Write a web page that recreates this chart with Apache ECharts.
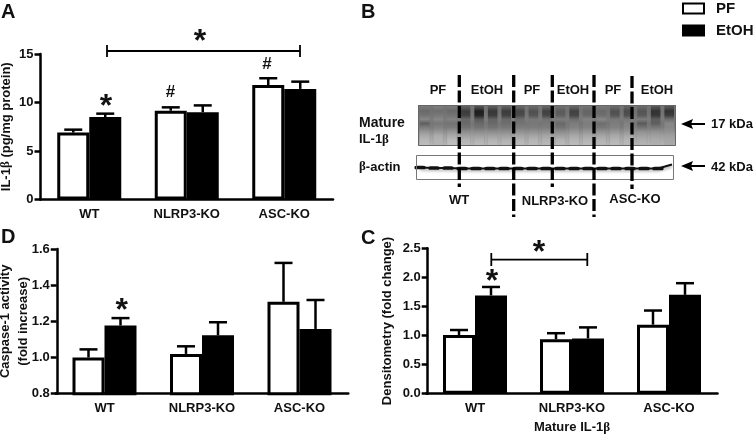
<!DOCTYPE html>
<html>
<head>
<meta charset="utf-8">
<style>html,body{margin:0;background:#fff}#main{width:755px;height:434px}</style>
<script src="https://cdn.jsdelivr.net/npm/echarts@6/dist/echarts.min.js"></script>
</head>
<body>
<div id="main"></div>
<script>
var categories = ['WT', 'NLRP3-KO', 'ASC-KO'];

// panel A
var il1bPF = [6.9, 9.15, 11.8];
var il1bPFTop = [7.2, 9.5, 12.5];
var il1bEtOH = [8.5, 9.0, 11.4];
var il1bEtOHTop = [8.85, 9.7, 12.15];
// panel D
var caspPF = [1.0, 1.02, 1.308];
var caspPFTop = [1.045, 1.062, 1.523];
var caspEtOH = [1.177, 1.123, 1.158];
var caspEtOHTop = [1.218, 1.195, 1.318];
// panel C
var densPF = [1.01, 0.935, 1.187];
var densPFTop = [1.095, 1.04, 1.43];
var densEtOH = [1.69, 0.95, 1.7];
var densEtOHTop = [1.835, 1.14, 1.9];

// western blot grey levels, one row per 4px, one column per lane
var blotRows = [
  [120, 125, 120, 95, 80, 90, 95, 100, 105, 100, 110, 100, 115, 120, 105, 100, 105, 85, 85],
  [105, 110, 105, 60, 30, 55, 60, 70, 80, 65, 90, 65, 100, 105, 80, 75, 85, 50, 50],
  [115, 120, 115, 65, 35, 60, 65, 75, 85, 70, 95, 70, 105, 110, 85, 80, 90, 55, 60],
  [135, 135, 130, 105, 90, 100, 105, 110, 120, 115, 125, 110, 130, 135, 120, 120, 125, 95, 110],
  [95, 120, 115, 105, 105, 105, 110, 115, 120, 120, 105, 125, 125, 110, 125, 130, 90, 95, 135],
  [125, 130, 125, 115, 115, 115, 120, 125, 125, 125, 115, 130, 130, 120, 130, 135, 115, 120, 135],
  [150, 150, 150, 140, 140, 140, 140, 145, 145, 145, 140, 150, 150, 145, 150, 150, 145, 145, 145],
  [170, 172, 170, 160, 160, 160, 160, 165, 165, 165, 160, 168, 168, 165, 168, 168, 160, 160, 158],
  [182, 178, 185, 178, 176, 178, 176, 178, 180, 178, 178, 180, 180, 178, 180, 180, 172, 170, 165],
  [188, 180, 190, 186, 186, 186, 184, 186, 186, 184, 186, 186, 186, 184, 186, 184, 178, 174, 168]
];
// lighter streaks that show between the lanes
var blotGapLevels = [118, 112, 118, 125, 118, 125, 146, 165, 176, 184];
var actinLevels = [0.5, 0, 0, -0.5, -0.5, -0.5, -0.5, -0.5, -0.5, -0.5, -0.5, -0.5, -0.5, -0.5, -0.5, -0.5, -0.5, -0.5, 3.5];

var font = 'Liberation Sans';
var barW = 32;
var betaRich = {
  a: { fontFamily: font, fontWeight: 'bold', fontSize: 13, color: '#111' },
  b: { fontFamily: 'Liberation Serif', fontWeight: 'bold', fontSize: 13, color: '#111' }
};

function xAxisConf (gridIndex, name) {
  return {
    type: 'category', gridIndex: gridIndex, data: categories,
    axisLine: { lineStyle: { color: '#000', width: 2.5 } },
    axisTick: { show: false },
    axisLabel: { color: '#111', fontFamily: font, fontWeight: 'bold', fontSize: 13, margin: 8, interval: 0 },
    name: name || '', nameLocation: 'middle', nameGap: 27,
    nameTextStyle: { rich: betaRich }
  };
}
function yAxisConf (gridIndex, min, max, interval, name, nameGap, offset, digits) {
  return {
    type: 'value', gridIndex: gridIndex, min: min, max: max, interval: interval, offset: offset,
    splitLine: { show: false },
    axisLine: { show: true, onZero: false, lineStyle: { color: '#000', width: 2.5 } },
    axisTick: { show: true, length: 6, lineStyle: { color: '#000', width: 2.5 } },
    axisLabel: {
      color: '#111', fontFamily: font, fontWeight: 'bold', fontSize: 13, margin: 7,
      formatter: function (v) { return v.toFixed(digits); }
    },
    name: name, nameLocation: 'middle', nameGap: nameGap, nameMoveOverlap: false,
    nameTextStyle: { rich: betaRich, color: '#111', fontFamily: font, fontWeight: 'bold', fontSize: 13, lineHeight: 18 }
  };
}
function barSeries (name, idx, values) {
  var white = name === 'PF';
  return {
    name: name, type: 'bar', xAxisIndex: idx, yAxisIndex: idx, data: values,
    barWidth: barW, barGap: 0, z: 3, silent: true,
    itemStyle: { color: white ? '#fff' : '#000', borderColor: '#000', borderWidth: 3 }
  };
}
function errorSeries (idx, values, tops, side) {
  return {
    type: 'custom', name: 'err' + idx + side, xAxisIndex: idx, yAxisIndex: idx, z: 2, silent: true,
    data: values.map(function (v, i) { return [i, v, tops[i]]; }),
    renderItem: function (params, api) {
      var base = api.coord([api.value(0), api.value(1)]);
      var top = api.coord([api.value(0), api.value(2)]);
      var x = base[0] + side * barW / 2;
      var style = { stroke: '#000', lineWidth: 2.5, fill: null };
      return {
        type: 'group',
        children: [
          { type: 'line', shape: { x1: x, y1: base[1], x2: x, y2: top[1] }, style: style },
          { type: 'line', shape: { x1: x - 9, y1: top[1], x2: x + 9, y2: top[1] }, style: style }
        ]
      };
    }
  };
}

function grey (v) { return 'rgb(' + v + ',' + v + ',' + v + ')'; }
function blotFill (levels) {
  var stops = levels.map(function (v, r) {
    return { offset: (r + 0.5) / levels.length, color: grey(v) };
  });
  return new echarts.graphic.LinearGradient(0, 0, 0, 1, stops);
}
var laneIdx = actinLevels.map(function (v, i) { return i; });
var rowIdx = blotRows.map(function (v, i) { return i; });

// graphic helpers for labels and annotations
function txt (x, y, text, size, align) {
  return {
    type: 'text', x: x, y: y, z: 20, silent: true,
    style: {
      text: text, fontFamily: font, fontWeight: 'bold', fontSize: size || 13, fill: '#111',
      align: align || 'center', verticalAlign: 'middle', rich: betaRich
    }
  };
}
function seg (x1, y1, x2, y2, width, dash) {
  return {
    type: 'line', z: 15, silent: true, shape: { x1: x1, y1: y1, x2: x2, y2: y2 },
    style: { stroke: '#000', lineWidth: width, lineDash: dash || null }
  };
}
function arrow (y) {
  return {
    type: 'group', silent: true, children: [
      seg(690, y, 705, y, 2),
      { type: 'polygon', z: 15, shape: { points: [[681, y], [693, y - 5], [691, y], [693, y + 5]] }, style: { fill: '#000' } }
    ]
  };
}
var dash = [12, 3.5];
var graphics = [
  txt(1, 12, 'A', 20, 'left'), txt(361, 12, 'B', 20, 'left'), txt(1, 237, 'D', 20, 'left'), txt(361, 238, 'C', 20, 'left'),
  // significance marks
  seg(107, 51, 300, 51, 1.8), seg(107, 45, 107, 57, 1.8), seg(300, 45, 300, 57, 1.8),
  txt(200, 42, '*', 32), txt(106, 107, '*', 32), txt(170.5, 92, '#', 17), txt(267, 64, '#', 17),
  txt(121.7, 311, '*', 32),
  seg(491.3, 259.7, 587.3, 259.7, 1.8), seg(491.3, 253, 491.3, 266, 1.8), seg(587.3, 253, 587.3, 266, 1.8),
  txt(539, 253, '*', 32), txt(492, 282, '*', 32),
  // blot outlines
  { type: 'rect', z: 12, silent: true, shape: { x: 418.5, y: 105.5, width: 257, height: 40 }, style: { fill: null, stroke: '#666', lineWidth: 1 } },
  { type: 'rect', z: 12, silent: true, shape: { x: 416.5, y: 155.5, width: 257, height: 24 }, style: { fill: null, stroke: '#777', lineWidth: 1 } },
  // lane dividers
  seg(459.3, 75, 459.3, 187, 3.3, dash), seg(513.7, 75, 513.7, 217, 3.3, dash), seg(552.3, 75, 552.3, 187, 3.3, dash),
  seg(594, 75, 594, 217, 3.3, dash), seg(632, 76, 632, 189, 3.3, dash),
  // blot labels
  txt(438, 90, 'PF'), txt(487, 90, 'EtOH'), txt(532, 90, 'PF'), txt(573, 90, 'EtOH'), txt(613, 90, 'PF'), txt(657, 90, 'EtOH'),
  txt(359, 123, 'Mature', 14, 'left'), txt(359, 139.5, '{a|IL-1}{b|β}', 13, 'left'), txt(359, 167, '{b|β}{a|-actin}', 13, 'left'),
  txt(711, 124, '17 kDa', 13, 'left'), txt(711, 167, '42 kDa', 13, 'left'),
  txt(459, 200, 'WT'), txt(555, 201, 'NLRP3-KO'), txt(635, 199, 'ASC-KO'),
  arrow(124), arrow(166)
];

var series = [
  errorSeries(0, il1bPF, il1bPFTop, -1), errorSeries(0, il1bEtOH, il1bEtOHTop, 1),
  barSeries('PF', 0, il1bPF), barSeries('EtOH', 0, il1bEtOH),
  errorSeries(1, caspPF, caspPFTop, -1), errorSeries(1, caspEtOH, caspEtOHTop, 1),
  barSeries('PF', 1, caspPF), barSeries('EtOH', 1, caspEtOH),
  errorSeries(2, densPF, densPFTop, -1), errorSeries(2, densEtOH, densEtOHTop, 1),
  barSeries('PF', 2, densPF), barSeries('EtOH', 2, densEtOH),
  {
    type: 'custom', name: 'blot', xAxisIndex: 3, yAxisIndex: 3, data: laneIdx, silent: true, clip: true,
    renderItem: function (params, api) {
      var lane = params.dataIndex;
      var c = api.coord([lane, 0]);
      var w = api.size([1, 0])[0];
      var h = params.coordSys.height;
      var top = params.coordSys.y;
      var levels = blotRows.map(function (row) { return row[lane]; });
      return {
        type: 'group',
        children: [
          { type: 'rect', shape: { x: c[0] - w / 2 - 1, y: top, width: w + 2, height: h }, style: { fill: blotFill(blotGapLevels) } },
          {
            type: 'rect', shape: { x: c[0] - w / 2 + 2, y: top, width: w - 4, height: h },
            style: { fill: blotFill(levels), shadowBlur: 5, shadowColor: 'rgba(110,110,110,0.4)' }
          }
        ]
      };
    }
  },
  {
    type: 'line', name: 'actin', xAxisIndex: 4, yAxisIndex: 4, silent: true, z: 5,
    data: actinLevels.map(function (v, i) { return i === actinLevels.length - 1 ? { value: v, symbol: 'none' } : v; }),
    symbol: 'roundRect', symbolSize: [11, 3.5], showSymbol: true, showAllSymbol: true,
    itemStyle: { color: '#111' },
    lineStyle: { color: '#111', width: 2, shadowColor: 'rgba(0,0,0,0.35)', shadowBlur: 3, shadowOffsetY: 2 }
  }
];

var option = {
  animation: false,
  backgroundColor: '#fff',
  legend: {
    data: ['PF', 'EtOH'], orient: 'vertical', left: 677, top: -4, itemWidth: 21, itemHeight: 10, itemGap: 7,
    selectedMode: false, icon: 'rect',
    textStyle: { color: '#111', fontFamily: font, fontWeight: 'bold', fontSize: 15, padding: [0, 0, 0, 7] }
  },
  grid: [
    { left: 40.5, top: 54, width: 292.5, height: 145.5, outerBoundsMode: 'none' },
    { left: 55.75, top: 249, width: 292.5, height: 144.7, outerBoundsMode: 'none' },
    { left: 426.5, top: 248.3, width: 291, height: 145.4, outerBoundsMode: 'none' },
    { left: 418, top: 105, width: 258, height: 41, outerBoundsMode: 'none' },
    { left: 420, top: 156, width: 252, height: 24, outerBoundsMode: 'none' }
  ],
  xAxis: [
    xAxisConf(0), xAxisConf(1), xAxisConf(2, '{a|Mature IL-1}{b|β}'),
    { type: 'category', gridIndex: 3, data: laneIdx, show: false },
    { type: 'category', gridIndex: 4, data: laneIdx, show: false, boundaryGap: false }
  ],
  yAxis: [
    yAxisConf(0, 0, 15, 5, '{a|IL-1}{b|β}{a| (pg/mg protein)}', 25.5, 0, 0),
    yAxisConf(1, 0.8, 1.6, 0.2, 'Caspase-1 activity\n(fold increase)', 24, -1, 1),
    yAxisConf(2, 0, 2.5, 0.5, 'Densitometry (fold change)', 31, -1.2, 1),
    { type: 'category', gridIndex: 3, data: rowIdx, show: false, inverse: true },
    { type: 'value', gridIndex: 4, min: -12, max: 12, show: false }
  ],
  graphic: graphics,
  series: series
};

var chart = echarts.init(document.getElementById('main'));
chart.setOption(option);
window.addEventListener('resize', function () { chart.resize(); });
</script>
</body>
</html>
